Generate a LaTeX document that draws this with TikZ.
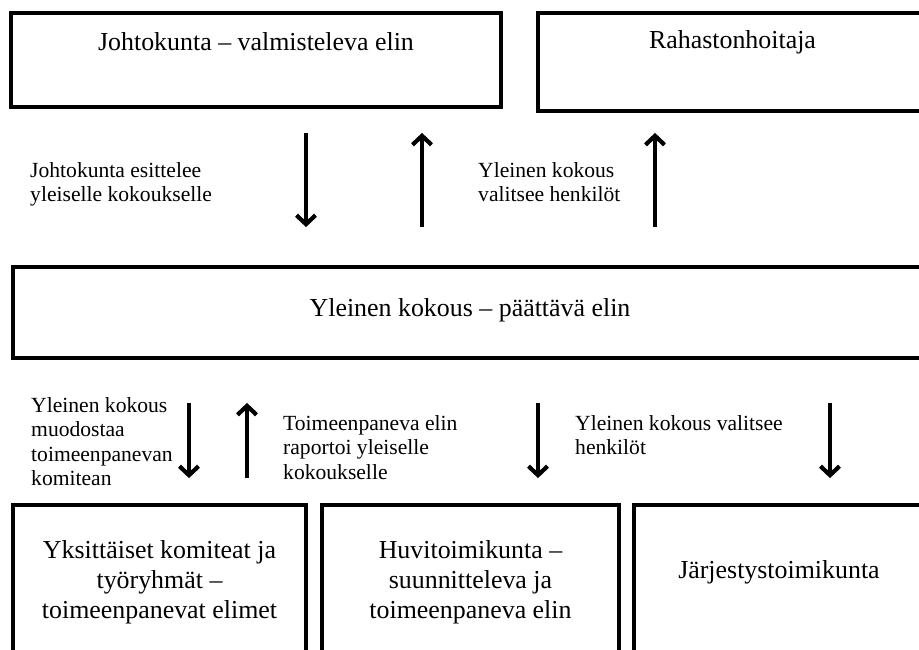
\documentclass[tikz,border=0pt]{standalone}
\usepackage{fontspec}
\setmainfont{Liberation Serif}
\usetikzlibrary{arrows.meta}

\tikzset{
  box/.style={draw, line width=3.8pt, inner sep=0pt, align=center,
    font=\fontsize{25.9pt}{29.8pt}\selectfont},
  lbl/.style={inner sep=0pt, align=left, anchor=north west,
    font=\fontsize{21.6pt}{24.6pt}\selectfont},
  arr/.style={line width=4.2pt, -{Straight Barb[length=9pt, width=19pt, line width=4.2pt]}},
}

\begin{document}
\begin{tikzpicture}[x=1pt, y=-1pt]
  \useasboundingbox (0,0) rectangle (919,649);
  \clip (0,0) rectangle (919,649);

  \node[box, minimum width=490pt, minimum height=94pt, text height=37pt, text depth=57pt]
    (johtokunta) at (256,60) {Johtokunta – valmisteleva elin};
  \node[box, minimum width=389pt, minimum height=98pt, text height=35pt, text depth=63pt]
    (rahasto) at (732.5,62) {Rahastonhoitaja};
  \node[box, minimum width=914pt, minimum height=91pt, text height=49pt, text depth=42pt]
    (kokous) at (470,312.5) {Yleinen kokous – päättävä elin};

  \node[box, minimum width=293pt, minimum height=154pt] (komiteat) at (159.5,582)
    {Yksittäiset komiteat ja\\työryhmät –\\toimeenpanevat elimet};
  \node[box, minimum width=297pt, minimum height=154pt] (huvi) at (470.5,582)
    {Huvitoimikunta –\\suunnitteleva ja\\toimeenpaneva elin};
  \node[box, minimum width=290pt, minimum height=154pt, text height=73pt, text depth=81pt]
    (jarjestys) at (779,582) {Järjestystoimikunta};

  \node[lbl] (esittelee) at (30,162) {Johtokunta esittelee\\yleiselle kokoukselle};
  \node[lbl] (valitsee) at (478,162) {Yleinen kokous\\valitsee henkilöt};
  \node[lbl] (muodostaa) at (31,397) {Yleinen kokous\\muodostaa\\toimeenpanevan\\komitean};
  \node[lbl] (raportoi) at (283,415) {Toimeenpaneva elin\\raportoi yleiselle\\kokoukselle};
  \node[lbl] (valitsee2) at (575,415) {Yleinen kokous valitsee\\henkilöt};

  \draw[arr, shorten <=24pt, shorten >=38pt] (johtokunta.south -| 306,0) -- (kokous.north -| 306,0);
  \draw[arr, shorten <=38pt, shorten >=24pt] (kokous.north -| 422,0) -- (johtokunta.south -| 422,0);
  \draw[arr, shorten <=38pt, shorten >=20pt] (kokous.north -| 655,0) -- (rahasto.south -| 655,0);

  \draw[arr, shorten <=43pt, shorten >=25pt] (kokous.south -| 189,0) -- (komiteat.north -| 189,0);
  \draw[arr, shorten <=25pt, shorten >=43pt] (komiteat.north -| 247,0) -- (kokous.south -| 247,0);
  \draw[arr, shorten <=43pt, shorten >=25pt] (kokous.south -| 538,0) -- (huvi.north -| 538,0);
  \draw[arr, shorten <=43pt, shorten >=25pt] (kokous.south -| 830,0) -- (jarjestys.north -| 830,0);
\end{tikzpicture}
\end{document}
